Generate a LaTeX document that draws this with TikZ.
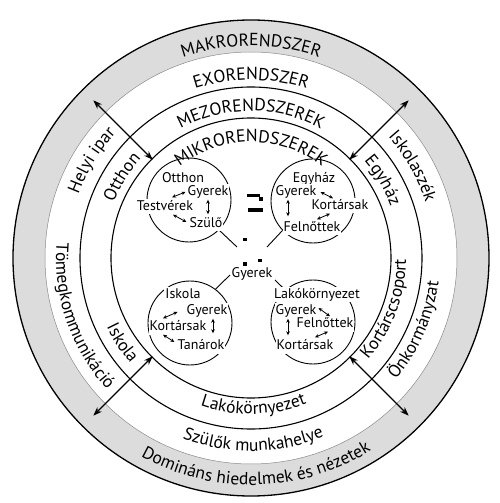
\documentclass[tikz,border=0pt]{standalone}
\usepackage{fontspec}
\setmainfont{PT Sans}
\usetikzlibrary{arrows.meta,decorations.text}
\definecolor{cband}{HTML}{DCDCDC}
\definecolor{cedge}{HTML}{8C8C8C}
\newcommand\lblfont{\fontsize{17.5}{20}\selectfont}
\newcommand\inrfont{\fontsize{14}{16}\selectfont}
% ring labels: clockwise (tops outward) and counter-clockwise (tops inward)
\newcommand\cwtext[3]{\path[decorate,decoration={text along path,text align=center,text={|\lblfont|#3}}]
  (#1+60:#2) arc[start angle=#1+60,end angle=#1-60,radius=#2];}
\newcommand\ccwtext[3]{\path[decorate,decoration={text along path,text align=center,text={|\lblfont|#3}}]
  (#1-60:#2) arc[start angle=#1-60,end angle=#1+60,radius=#2];}

\begin{document}
\begin{tikzpicture}[x=1pt,y=1pt,
    ring/.style={line width=1.1pt},
    micro/.style={circle,draw,line width=0.9pt,minimum size=84pt,inner sep=0pt},
    word/.style={font=\inrfont,fill=white,inner sep=1pt,text height=10pt,text depth=3pt},
    pair/.style={line width=0.8pt,{Stealth[length=4pt,width=3.6pt]}-{Stealth[length=4pt,width=3.6pt]}},
    link/.style={line width=1.3pt,{Stealth[length=9pt,width=6.5pt]}-{Stealth[length=9pt,width=6.5pt]}}]
  \useasboundingbox (-251,-245) rectangle (249,258);
  % ---- rings
  \fill[cband,even odd rule] (0,0) circle[radius=238] (0,0) circle[radius=206];
  \draw[cedge,line width=0.5pt] (0,0) circle[radius=206];
  \draw[line width=1.3pt] (0,0) circle[radius=238];
  \draw[ring] (0,0) circle[radius=171];
  \draw[ring] (0,0) circle[radius=140];
  % ---- ring labels
  \cwtext{90}{212}{MAKRORENDSZER}
  \cwtext{90}{178}{EXORENDSZER}
  \cwtext{90}{147}{MEZORENDSZEREK}
  \cwtext{90}{116}{MIKRORENDSZEREK}
  \cwtext{148.5}{184}{Helyi ipar}
  \cwtext{148}{148}{Otthon}
  \cwtext{29.5}{183}{Iskolaszék}
  \cwtext{30.5}{149}{Egyház}
  \ccwtext{271.5}{227}{Domináns hiedelmek és nézetek}
  \ccwtext{270.7}{193}{Szülők munkahelye}
  \ccwtext{271}{156}{Lakókörnyezet}
  \ccwtext{199}{195}{Tömegkommunikáció}
  \ccwtext{213.4}{160}{Iskola}
  \ccwtext{-20.7}{155}{Kortárscsoport}
  \ccwtext{-23.6}{189}{Önkormányzat}
  % ---- arrows across the rings
  \foreach \a in {45,135,225,315}{
    \coordinate (in\a) at (\a:139);
    \coordinate (out\a) at (\a:223);
    \draw[link] (in\a) -- (out\a);}
  % ---- microsystems
  \node[micro] (home) at (-62,58) {};
  \node[micro] (church) at (62,57) {};
  \node[micro] (school) at (-61,-65) {};
  \node[micro] (hood) at (62,-64) {};
  \node[font=\inrfont,inner sep=1pt] (child) at (1,-15.5) {Gyerek};
  \coordinate (k1) at (-14,11);
  \coordinate (k2) at (16,11);
  \coordinate (k3) at (-21,-17);
  \coordinate (k4) at (24,-22);
  \draw[line width=0.9pt] (home.-45) -- (k1);
  \draw[line width=0.9pt] (church.224) -- (k2);
  \draw[line width=0.9pt] (school.53) -- (k3);
  \draw[line width=0.9pt] (hood.131) -- (k4);
  % stray marks
  \fill (-4.3,64) rectangle (9,60.7);
  \fill (8.3,60.7) rectangle (12.3,57);
  \fill (-2.7,49.7) rectangle (12.3,46.3);
  \fill (-7.7,20.3) rectangle (-4.3,17);
  \fill (-7.7,-4.3) rectangle (-4.3,-7.7);
  \fill (7.3,-1) rectangle (11.3,-4.3);
  % Otthon
  \node[word] (ot1) at (-68,79) {Otthon};
  \node[word] (gy1) at (-43,66) {Gyerek};
  \node[word] (tv1) at (-86,51) {Testvérek};
  \node[word] (sz1) at (-45,34) {Szülő};
  \draw[pair] ([shift={(7,2)}]tv1.north) -- ([shift={(-1,0)}]gy1.west);
  \draw[pair] ([shift={(8,0)}]tv1.south) -- ([shift={(-2,2)}]sz1.west);
  \draw[pair] (gy1.south) -- ([xshift=2,yshift=2]sz1.north);
  % Egyház
  \node[word] (eg2) at (63,79) {Egyház};
  \node[word] (gy2) at (45,66) {Gyerek};
  \node[word] (ko2) at (89,52) {Kortársak};
  \node[word] (fe2) at (61,30) {Felnőttek};
  \draw[pair] ([shift={(3,0)}]gy2.east) -- ([shift={(-7,0)}]ko2.north);
  \draw[pair] ([shift={(-10,0)}]ko2.south) -- ([shift={(5,1)}]fe2.north);
  \draw[pair] ([xshift=-8]gy2.south) -- ([xshift=-24,yshift=4]fe2.north);
  % Iskola
  \node[word] (is3) at (-68,-37) {Iskola};
  \node[word] (gy3) at (-44,-53) {Gyerek};
  \node[word] (ko3) at (-73,-69) {Kortársak};
  \node[word] (ta3) at (-50,-88) {Tanárok};
  \draw[pair] ([shift={(-15,1)}]ko3.north) -- ([shift={(-8,-1)}]gy3.west);
  \draw[pair] ([shift={(-15,0)}]ko3.south) -- ([shift={(-2,4)}]ta3.west);
  \draw[pair] ([xshift=6]gy3.south) -- ([xshift=12,yshift=5]ta3.north);
  % Lakókörnyezet
  \node[word] (la4) at (66,-37) {Lakókörnyezet};
  \node[word] (gy4) at (45,-53) {Gyerek};
  \node[word] (fe4) at (74,-66) {Felnőttek};
  \node[word] (ko4) at (54,-88) {Kortársak};
  \draw[pair] ([shift={(1,3)}]gy4.east) -- ([shift={(5,0)}]fe4.north);
  \draw[pair] ([shift={(3,0)}]fe4.south) -- ([shift={(10,1)}]ko4.north);
  \draw[pair] ([xshift=-8]gy4.south) -- ([xshift=-17,yshift=3]ko4.north);
\end{tikzpicture}
\end{document}
